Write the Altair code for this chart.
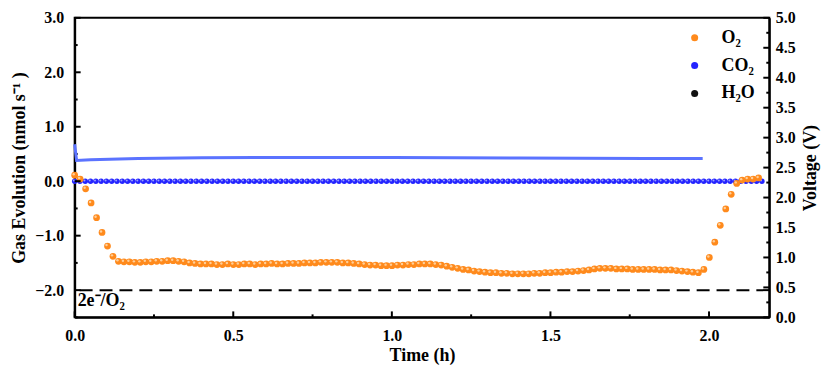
import altair as alt
import pandas as pd

# ---------------- data ----------------
SERIES = ["O₂", "CO₂", "H₂O"]
SERIES_COLORS = ["#FF8A1C", "#2424FF", "#111111"]

O2_STEP_H = 0.01725
o2_values = [
    0.11, 0.04, -0.14, -0.40, -0.67, -0.94, -1.19, -1.38, -1.47,
    -1.48, -1.48, -1.49, -1.49, -1.48, -1.48, -1.47, -1.47, -1.46, -1.46,
    -1.47, -1.48, -1.50, -1.51, -1.52, -1.52,
    -1.52, -1.53, -1.53, -1.52, -1.53, -1.53, -1.52, -1.52, -1.53, -1.52,
    -1.52, -1.51, -1.52, -1.52, -1.51, -1.51, -1.51, -1.50, -1.50,
    -1.50, -1.49, -1.49, -1.49, -1.49, -1.50, -1.50, -1.51, -1.52, -1.53,
    -1.54, -1.54, -1.55, -1.55, -1.55, -1.54, -1.54, -1.53, -1.53, -1.52,
    -1.52, -1.52, -1.53, -1.54, -1.56, -1.58,
    -1.60, -1.62, -1.63, -1.65, -1.66, -1.67, -1.68, -1.68, -1.69, -1.69,
    -1.70, -1.70, -1.70, -1.70, -1.69, -1.69, -1.68, -1.68, -1.67, -1.67,
    -1.66, -1.66, -1.65, -1.64, -1.63, -1.61, -1.60, -1.60, -1.60, -1.61,
    -1.61, -1.61, -1.62, -1.62, -1.62, -1.62, -1.62, -1.63, -1.63, -1.63,
    -1.64, -1.65, -1.66, -1.67,
    -1.68, -1.62, -1.40, -1.12, -0.81, -0.51, -0.24, -0.04, 0.02, 0.04,
    0.04, 0.06,
]

CO2_STEP_H = 1 / 60
co2_values = [
    0.00, 0.00, 0.00, 0.00, 0.00, 0.00, 0.00, 0.00, 0.00, 0.00,
    0.00, 0.00, 0.00, 0.00, 0.00, 0.00, 0.00, 0.00, 0.00, 0.00,
    0.00, 0.00, 0.00, 0.00, 0.00, 0.00, 0.00, 0.00, 0.00, 0.00,
    0.00, 0.00, 0.00, 0.00, 0.00, 0.00, 0.00, 0.00, 0.00, 0.00,
    0.00, 0.00, 0.00, 0.00, 0.00, 0.00, 0.00, 0.00, 0.00, 0.00,
    0.00, 0.00, 0.00, 0.00, 0.00, 0.00, 0.00, 0.00, 0.00, 0.00,
    0.00, 0.00, 0.00, 0.00, 0.00, 0.00, 0.00, 0.00, 0.00, 0.00,
    0.00, 0.00, 0.00, 0.00, 0.00, 0.00, 0.00, 0.00, 0.00, 0.00,
    0.00, 0.00, 0.00, 0.00, 0.00, 0.00, 0.00, 0.00, 0.00, 0.00,
    0.00, 0.00, 0.00, 0.00, 0.00, 0.00, 0.00, 0.00, 0.00, 0.00,
    0.00, 0.00, 0.00, 0.00, 0.00, 0.00, 0.00, 0.00, 0.00, 0.00,
    0.00, 0.00, 0.00, 0.00, 0.00, 0.00, 0.00, 0.00, 0.00, 0.00,
    0.00, 0.00, 0.00, 0.00, 0.00, 0.00, 0.00, 0.00, 0.00, 0.00,
    0.00,
]

volt_time = [0.0, 0.006, 0.05, 0.2, 0.4, 0.6, 0.8, 1.0, 1.2, 1.4, 1.6, 1.8, 1.98]
volt_values = [2.89, 2.62, 2.63, 2.65, 2.665, 2.67, 2.67, 2.67, 2.665, 2.66, 2.655, 2.65, 2.65]

LIMIT_VALUE = -2.0
LIMIT_LABEL = "2e⁻/O₂"

X_DOMAIN = [0, 2.19]
LEFT_DOMAIN = [-2.5, 3.0]
RIGHT_DOMAIN = [0, 5.0]
x_major_ticks = [0.0, 0.5, 1.0, 1.5, 2.0]
x_minor_ticks = [0.25, 0.75, 1.25, 1.75]
left_major_ticks = [-2.0, -1.0, 0.0, 1.0, 2.0, 3.0]
left_minor_ticks = [-2.5, -1.5, -0.5, 0.5, 1.5, 2.5]
right_major_ticks = [0.0, 0.5, 1.0, 1.5, 2.0, 2.5, 3.0, 3.5, 4.0, 4.5, 5.0]
right_minor_ticks = [0.25, 0.75, 1.25, 1.75, 2.25, 2.75, 3.25, 3.75, 4.25, 4.75]

# ---------------- frames ----------------
o2_df = pd.DataFrame({
    "time": [i * O2_STEP_H for i in range(len(o2_values))],
    "value": o2_values,
    "series": SERIES[0],
})
co2_df = pd.DataFrame({
    "time": [i * CO2_STEP_H for i in range(len(co2_values))],
    "value": co2_values,
    "series": SERIES[1],
})
volt_df = pd.DataFrame({"time": volt_time, "volt": volt_values})
limit_df = pd.DataFrame({"time": [0.0], "value": [LIMIT_VALUE], "label": [LIMIT_LABEL]})

FONT = "Liberation Serif"
MAJOR_LEN = 6
MINOR_LEN = 3
TICK_W = 2

x_axis = alt.Axis(
    values=x_major_ticks,
    format=".1f",
    ticks=False,
    title="Time (h)",
    labelFlush=False,
    labelPadding=10,
    titlePadding=3,
)
left_axis = alt.Axis(
    values=left_major_ticks,
    format=".1f",
    ticks=False,
    title="Gas Evolution (nmol s⁻¹ )",
    labelPadding=11,
    titlePadding=6,
)
right_axis = alt.Axis(
    orient="right",
    values=right_major_ticks,
    format=".1f",
    ticks=False,
    title="Voltage (V)",
    titleAngle=270,
    titleBaseline="top",
    labelPadding=6,
    titlePadding=6,
)

X = alt.X("time:Q", scale=alt.Scale(domain=X_DOMAIN, nice=False, zero=False), axis=x_axis)
Y = alt.Y("value:Q", scale=alt.Scale(domain=LEFT_DOMAIN, nice=False, zero=False), axis=left_axis)
YV = alt.Y("volt:Q", scale=alt.Scale(domain=RIGHT_DOMAIN, nice=False, zero=False), axis=right_axis)
color = alt.Color("series:N", scale=alt.Scale(domain=SERIES, range=SERIES_COLORS),
                  legend=alt.Legend(title=None))

# upward stroke glyph: runs from the point's centre straight up by half the symbol's width
UP_STROKE = "M0,0L0,-1"


def v_tick(values, length):
    # vertical tick standing on the bottom edge (scale minimum), pointing into the plot
    df = pd.DataFrame({"time": values, "value": [LEFT_DOMAIN[0]] * len(values)})
    return alt.Chart(df).mark_point(
        shape=UP_STROKE, size=(2 * length) ** 2, filled=False, opacity=1,
        stroke="black", strokeWidth=TICK_W, strokeCap="butt",
    ).encode(x=X, y=Y)


def h_tick(df, enc_y, length, side):
    # horizontal tick on the left (side=+1) or right (side=-1) edge, pointing inward
    edge = 0 if side > 0 else "width"
    return alt.Chart(df).mark_tick(
        orient="horizontal", size=length, thickness=TICK_W, color="black", opacity=1,
        xOffset=side * length / 2,
    ).encode(y=enc_y, x=alt.value(edge))


xt_major = v_tick(x_major_ticks, MAJOR_LEN)
xt_minor = v_tick(x_minor_ticks, MINOR_LEN)
lt_major = h_tick(pd.DataFrame({"value": left_major_ticks}), Y, MAJOR_LEN, 1)
lt_minor = h_tick(pd.DataFrame({"value": left_minor_ticks}), Y, MINOR_LEN, 1)
rt_major = h_tick(pd.DataFrame({"volt": right_major_ticks}), YV, MAJOR_LEN, -1)
rt_minor = h_tick(pd.DataFrame({"volt": right_minor_ticks}), YV, MINOR_LEN, -1)

limit_rule = alt.Chart(limit_df).mark_rule(color="black", strokeWidth=2, strokeDash=[13, 7]).encode(y=Y)
limit_text = alt.Chart(limit_df).mark_text(
    align="left", baseline="top", dx=3, dy=2, font=FONT, fontWeight="bold", fontSize=18, color="black"
).encode(x=X, y=Y, text="label:N")

co2_pts = alt.Chart(co2_df).mark_circle(size=30, opacity=1).encode(x=X, y=Y, color=color)
co2_hi = alt.Chart(co2_df).mark_circle(size=4, opacity=0.8, color="#B8BEFF", xOffset=-0.8, yOffset=-0.8).encode(x=X, y=Y)
o2_pts = alt.Chart(o2_df).mark_circle(size=46, opacity=1).encode(x=X, y=Y, color=color)
o2_hi = alt.Chart(o2_df).mark_circle(size=6, opacity=0.8, color="#FFE0B8", xOffset=-1, yOffset=-1).encode(x=X, y=Y)

left = alt.layer(limit_rule, limit_text, co2_pts, co2_hi, o2_pts, o2_hi,
                 xt_major, xt_minor, lt_major, lt_minor)

volt_line = alt.Chart(volt_df).mark_line(color="#5B73FF", strokeWidth=3).encode(x=X, y=YV)
right = alt.layer(volt_line, rt_major, rt_minor)

chart = alt.layer(left, right).resolve_scale(y="independent").properties(
    width=698,
    height=301,
    autosize=alt.AutoSizeParams(type="none"),
    padding={"left": 67, "top": 9, "right": 60, "bottom": 48},
    background="white",
).configure_view(
    stroke="black", strokeWidth=2
).configure_axis(
    grid=False,
    domainColor="black",
    domainWidth=2,
    labelFont=FONT,
    labelFontSize=16,
    labelFontWeight="bold",
    labelColor="black",
    titleFont=FONT,
    titleFontSize=18,
    titleFontWeight="bold",
    titleColor="black",
).configure_legend(
    orient="none",
    legendX=614,
    legendY=11,
    symbolType="circle",
    symbolSize=50,
    symbolStrokeWidth=0,
    labelFont=FONT,
    labelFontSize=18,
    labelFontWeight="bold",
    labelColor="black",
    rowPadding=10,
    labelOffset=18,
    padding=0,
)

chart.save("out.html", embed_options={"renderer": "svg", "actions": False})
